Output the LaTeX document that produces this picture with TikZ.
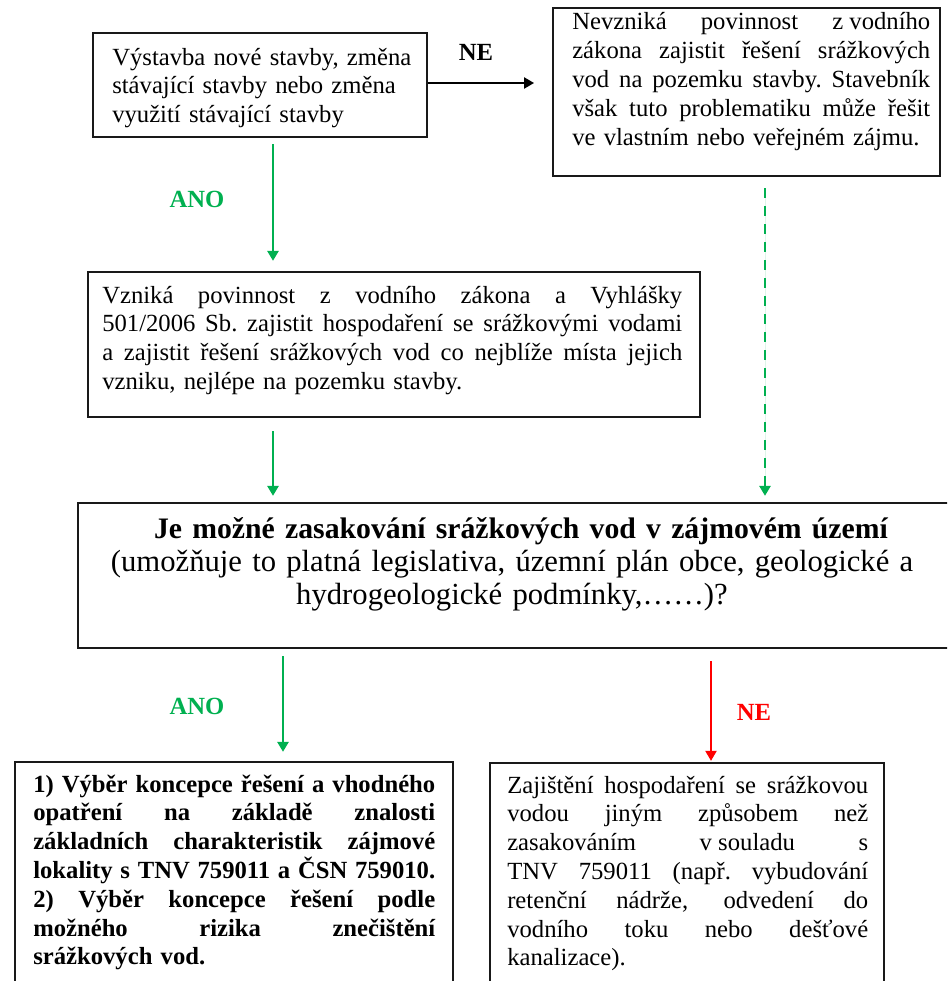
\documentclass[tikz,border=0pt]{standalone}
\usepackage{fontspec}
\setmainfont{Liberation Serif}
\usetikzlibrary{arrows.meta}
\definecolor{mygreen}{RGB}{0,176,80}
\definecolor{myred}{RGB}{255,0,0}
\newcommand{\jl}[1]{\leavevmode\hbox to \hsize{\spaceskip=0.25em plus 1fil\relax\xspaceskip=\spaceskip\strut#1}}
\newcommand{\nl}[1]{\leavevmode\strut#1}
\begin{document}
\begin{tikzpicture}[x=0.75pt,y=-0.75pt,
  box/.style={draw=black!90, line width=1.8pt, inner sep=0pt},
  txt/.style={inner sep=0pt, anchor=base west, font=\fontsize{18.5}{21.6}\selectfont, align=left,
    execute at begin node={\lineskiplimit=-100pt\relax}},
  lbl/.style={inner sep=0pt, font=\fontsize{18.5}{21.6}\selectfont\bfseries},
  arr/.style={line width=1.5pt, -{Triangle[length=7.5pt,width=8.5pt]}},
]
\useasboundingbox (0,0) rectangle (947,981);
\clip (0,0) rectangle (947,981);
% boxes
\node[box, minimum width=250.5pt, minimum height=78pt] (b1) at (260,85) {};
\node[box, minimum width=290.25pt, minimum height=126pt] (b2) at (746.5,92) {};
\node[box, minimum width=459pt, minimum height=108.75pt] (b3) at (394,344.5) {};
\node[box, minimum width=657.75pt, minimum height=108.75pt] (b4) at (516.5,575.5) {};
\node[box, minimum width=328.5pt, minimum height=178.5pt] (b5) at (234,881) {};
\node[box, minimum width=295.5pt, minimum height=177.75pt] (b6) at (687,881.5) {};
% texts
\node[txt, text width=240pt] (t1) at (112,65) {\nl{Výstavba nové stavby, změna}\\ \nl{stávající stavby nebo změna}\\ \nl{využití stávající stavby}};
\node[txt, text width=268.5pt] (t2) at (572,30) {\jl{Nevzniká povinnost z\kern0.25em vodního}\\ \jl{zákona zajistit řešení srážkových}\\ \jl{vod na pozemku stavby. Stavebník}\\ \jl{však tuto problematiku může řešit}\\ \nl{ve vlastním nebo veřejném zájmu.}};
\node[txt, text width=435pt] (t3) at (102,303) {\jl{Vzniká povinnost z vodního zákona a Vyhlášky}\\ \jl{501/2006 Sb. zajistit hospodaření se srážkovými vodami}\\ \jl{a zajistit řešení srážkových vod co nejblíže místa jejich}\\ \nl{vzniku, nejlépe na pozemku stavby.}};
\node[inner sep=0pt, anchor=base, text width=652.5pt, align=center, font=\fontsize{23}{25}\selectfont,
    execute at begin node={\lineskiplimit=-100pt\relax}] (t4) at (512,538)
  {{\bfseries\fontsize{22.3}{25}\selectfont\hspace*{13.5pt}\strut Je možné zasakování srážkových vod v zájmovém území}\\ \strut(umožňuje to platná legislativa, územní plán obce, geologické a\\ \strut hydrogeologické podmínky,……)?};
\node[txt, text width=301.5pt, font=\fontsize{18.5}{21.6}\selectfont\bfseries] (t5) at (33,792) {\jl{1) Výběr koncepce řešení a vhodného}\\ \jl{opatření na základě znalosti}\\ \jl{základních charakteristik zájmové}\\ \jl{lokality s TNV 759011 a ČSN 759010.}\\ \jl{2) Výběr koncepce řešení podle}\\ \jl{možného rizika znečištění}\\ \nl{srážkových vod.}};
\node[txt, text width=270.75pt] (t6) at (507,793) {\jl{Zajištění hospodaření se srážkovou}\\ \jl{vodou jiným způsobem než}\\ \jl{zasakováním v\kern0.25em souladu s}\\ \jl{TNV 759011 (např. vybudování}\\ \jl{retenční nádrže, odvedení do}\\ \jl{vodního toku nebo dešťové}\\ \nl{kanalizace).}};
% labels
\node[lbl] (lne) at (476,52) {NE};
\node[lbl, text=mygreen] (lano1) at (197,199) {ANO};
\node[lbl, text=mygreen] (lano2) at (197,706) {ANO};
\node[lbl, text=myred] (lne2) at (754,712) {NE};
% connector helper coordinates
\coordinate (ne) at (534,83);
\coordinate (g1) at (273,0);
\coordinate (g2) at (765,0);
\coordinate (g3) at (283,0);
\coordinate (r1) at (711,0);
% connectors
\draw[arr, line width=1pt, black] (b1.east |- ne) -- (ne);
\draw[arr, draw=mygreen, fill=mygreen, shorten <=4.5pt, shorten >=7.5pt] (b1.south -| g1) -- (b3.north -| g1);
\draw[arr, draw=mygreen, fill=mygreen, shorten <=9.75pt, shorten >=4.5pt] (b3.south -| g1) -- (b4.north -| g1);
\draw[arr, draw=mygreen, fill=mygreen, dash pattern=on 7.5pt off 6pt, shorten <=8.25pt, shorten >=4.5pt] (b2.south -| g2) -- (b4.north -| g2);
\draw[arr, draw=mygreen, fill=mygreen, shorten <=5.25pt, shorten >=6.75pt] (b4.south -| g3) -- (b5.north -| g3);
\draw[arr, line width=1pt, draw=myred, fill=myred, shorten <=9pt, shorten >=0.75pt] (b4.south -| r1) -- (b6.north -| r1);
\end{tikzpicture}
\end{document}
